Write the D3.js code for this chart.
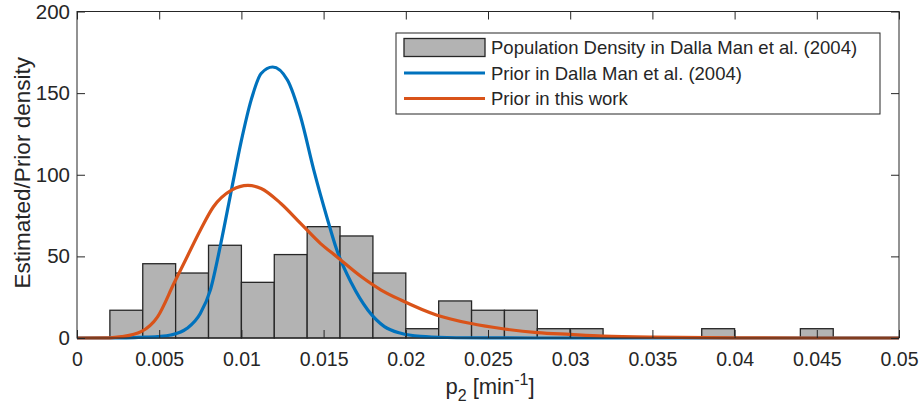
<!doctype html>
<html lang="en">
<head>
<meta charset="utf-8">
<title>p2 prior density</title>
<style>
  body { margin: 0; background: #fff; }
  svg text { font-family: "Liberation Sans", Arial, sans-serif; fill: #262626; }
</style>
</head>
<body>
<div id="chart"></div>
<script src="https://cdn.jsdelivr.net/npm/d3@7"></script>
<script>
// histogram: bins of width 0.002 starting at 0.002
var binStart = 0.002;
var binWidth = 0.002;
var density = [17.0, 45.5, 39.8, 56.8, 34.1, 51.1, 68.2, 62.5, 39.8, 5.7, 22.7,
               17.0, 17.0, 5.7, 5.7, 0, 0, 0, 5.7, 0, 0, 5.7];

// prior in Dalla Man et al. (2004)
var blueX = [0, 0.003, 0.0039, 0.0049, 0.0057, 0.0067, 0.0075, 0.0081, 0.00875, 0.0094,
             0.0100, 0.0106, 0.0112, 0.0119, 0.0128, 0.0136, 0.0144, 0.0152, 0.0158,
             0.0167, 0.0177, 0.0187, 0.0197, 0.0209, 0.0225, 0.025, 0.03, 0.05];
var blueY = [0, 0.1, 0.4, 0.9, 1.8, 5.9, 15, 29, 58, 91,
             121, 146, 162, 166, 158, 135.5, 103, 74, 54,
             33.5, 17, 7, 2.9, 1.0, 0.3, 0.05, 0, 0];

// prior in this work
var orangeX = [0, 0.002, 0.0027, 0.0039, 0.0049, 0.0059, 0.0067, 0.0075, 0.0083, 0.0094,
               0.0104, 0.0112, 0.0124, 0.0136, 0.0148, 0.0158, 0.0173, 0.0185, 0.0197,
               0.0219, 0.0239, 0.026, 0.028, 0.030, 0.032, 0.035, 0.04, 0.045, 0.05];
var orangeY = [0, 0.1, 0.8, 3.9, 13, 33.5, 49.8, 66, 80.4, 90.6,
               93.5, 91.6, 82.4, 70.2, 58, 49.8, 37.5, 29.4, 23.3,
               14, 9, 5.5, 3.3, 2.2, 1.2, 0.5, 0.1, 0, 0];

var xTicks = [0, 0.005, 0.01, 0.015, 0.02, 0.025, 0.03, 0.035, 0.04, 0.045, 0.05];
var xTickLabels = ["0", "0.005", "0.01", "0.015", "0.02", "0.025", "0.03", "0.035", "0.04", "0.045", "0.05"];
var yTicks = [0, 50, 100, 150, 200];

var legendLabels = ["Population Density in Dalla Man et al. (2004)",
                    "Prior in Dalla Man et al. (2004)",
                    "Prior in this work"];

var W = 924, H = 414;
var margin = {top: 11.5, right: 25, bottom: 76, left: 77};
var width = W - margin.left - margin.right,
    height = H - margin.top - margin.bottom;

var axisColor = "#262626";
var blue = "#0072BD", orange = "#D95319";

var x = d3.scaleLinear().domain([0, 0.05]).range([0, width]);
var y = d3.scaleLinear().domain([0, 200]).range([height, 0]);

var svg = d3.select("#chart").append("svg")
  .attr("width", W)
  .attr("height", H)
  .append("g")
  .attr("transform", "translate(" + margin.left + "," + margin.top + ")");

// bars
var bins = density.map(function(d, i) {
  return {x0: binStart + i * binWidth, x1: binStart + (i + 1) * binWidth, v: d};
}).filter(function(d) { return d.v > 0; });

svg.selectAll(".bar")
  .data(bins)
  .enter().append("rect")
  .attr("class", "bar")
  .attr("x", function(d) { return x(d.x0); })
  .attr("y", function(d) { return y(d.v); })
  .attr("width", function(d) { return x(d.x1) - x(d.x0); })
  .attr("height", function(d) { return y(0) - y(d.v); })
  .style("fill", "#b3b3b3")
  .style("stroke", "#262626")
  .style("stroke-width", 1.3);

// curves
var line = d3.line()
  .x(function(d) { return x(d[0]); })
  .y(function(d) { return y(d[1]); })
  .curve(d3.curveMonotoneX);

svg.append("path")
  .datum(d3.zip(blueX, blueY))
  .attr("d", line)
  .style("fill", "none")
  .style("stroke", blue)
  .style("stroke-width", 3.2);

svg.append("path")
  .datum(d3.zip(orangeX, orangeY))
  .attr("d", line)
  .style("fill", "none")
  .style("stroke", orange)
  .style("stroke-width", 3.2);

// axes: box with inward ticks on all sides
var xAxis = d3.axisBottom(x).tickValues(xTicks)
  .tickFormat(function(d, i) { return xTickLabels[i]; })
  .tickSizeInner(-8).tickSizeOuter(0).tickPadding(14);
var yAxis = d3.axisLeft(y).tickValues(yTicks)
  .tickSizeInner(-8).tickSizeOuter(0).tickPadding(7);

var gx = svg.append("g")
  .attr("transform", "translate(0," + height + ")")
  .call(xAxis);
var gy = svg.append("g").call(yAxis);
svg.append("g")
  .call(d3.axisTop(x).tickValues(xTicks).tickFormat("").tickSizeInner(-8).tickSizeOuter(0));
svg.append("g")
  .attr("transform", "translate(" + width + ",0)")
  .call(d3.axisRight(y).tickValues(yTicks).tickFormat("").tickSizeInner(-8).tickSizeOuter(0));

svg.selectAll(".domain, .tick line")
  .style("stroke", axisColor)
  .style("stroke-width", 1);
gx.selectAll("text").style("font-size", "19.5px").style("fill", axisColor);
gy.selectAll("text").style("font-size", "20.5px").style("fill", axisColor);
svg.selectAll(".domain").remove();

svg.append("rect")
  .attr("width", width)
  .attr("height", height)
  .style("fill", "none")
  .style("stroke", axisColor)
  .style("stroke-width", 1);

// axis labels
var xl = svg.append("text")
  .attr("x", width / 2 + 2)
  .attr("y", height + 56)
  .attr("text-anchor", "middle")
  .style("font-size", "22px");
xl.append("tspan").text("p");
xl.append("tspan").attr("dy", 7).style("font-size", "16px").text("2");
xl.append("tspan").attr("dy", -7).text(" [min");
xl.append("tspan").attr("dy", -9).style("font-size", "16px").text("-1");
xl.append("tspan").attr("dy", 9).text("]");

svg.append("text")
  .attr("transform", "translate(" + (-47) + "," + (height / 2 - 2) + ") rotate(-90)")
  .attr("text-anchor", "middle")
  .style("font-size", "22.5px")
  .text("Estimated/Prior density");

// legend
var legW = 484, legH = 81;
var leg = svg.append("g")
  .attr("transform", "translate(" + (width - 19 - legW) + ",21.5)");
leg.append("rect")
  .attr("width", legW)
  .attr("height", legH)
  .style("fill", "#fff")
  .style("stroke", axisColor)
  .style("stroke-width", 1);

var rowY = [14.5, 40, 65.5];
leg.append("rect")
  .attr("x", 8).attr("y", rowY[0] - 9)
  .attr("width", 81).attr("height", 18)
  .style("fill", "#b3b3b3")
  .style("stroke", "#262626")
  .style("stroke-width", 1.3);
leg.append("line")
  .attr("x1", 8).attr("x2", 89).attr("y1", rowY[1]).attr("y2", rowY[1])
  .style("stroke", blue).style("stroke-width", 3.2);
leg.append("line")
  .attr("x1", 8).attr("x2", 89).attr("y1", rowY[2]).attr("y2", rowY[2])
  .style("stroke", orange).style("stroke-width", 3.2);

leg.selectAll(".legtext")
  .data(legendLabels)
  .enter().append("text")
  .attr("class", "legtext")
  .attr("x", 95)
  .attr("y", function(d, i) { return rowY[i]; })
  .attr("dy", "0.36em")
  .style("font-size", "18.5px")
  .text(function(d) { return d; });
</script>
</body>
</html>
